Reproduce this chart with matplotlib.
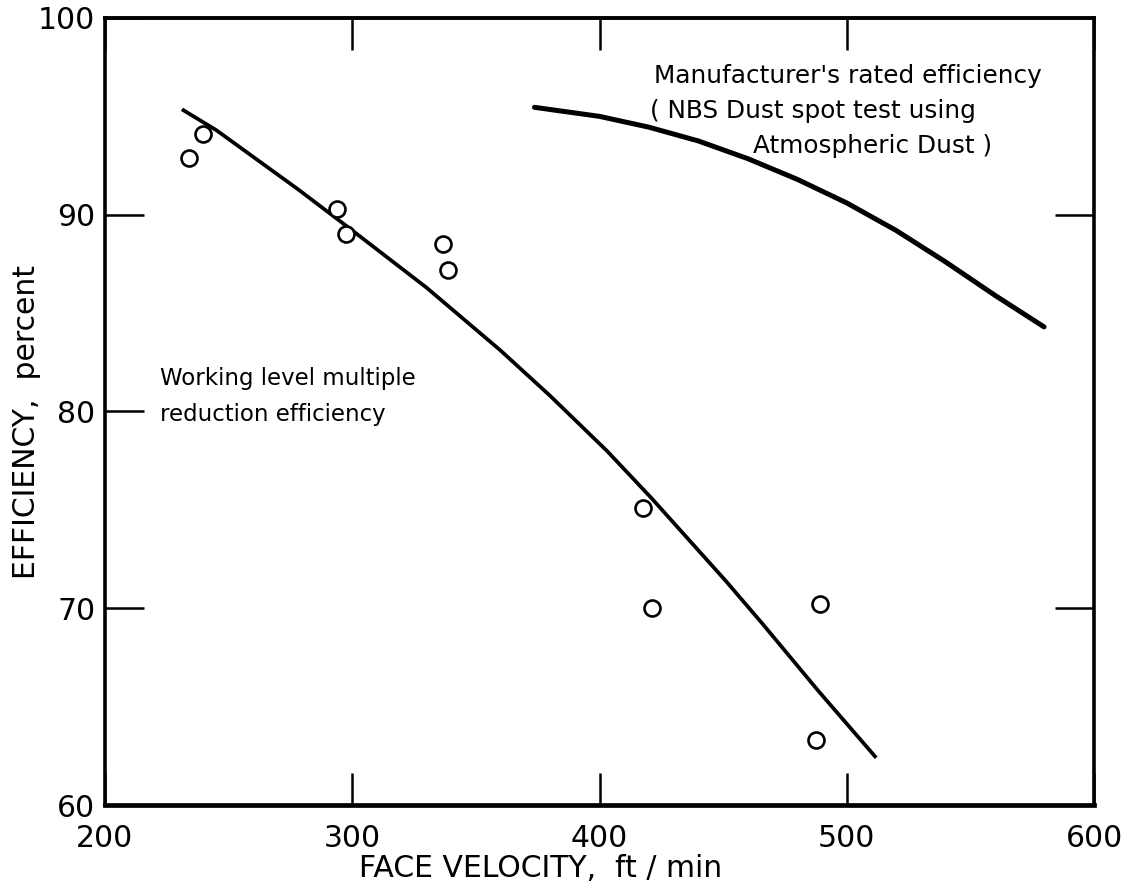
import matplotlib
matplotlib.use("Agg")
import matplotlib.pyplot as plt

# ---- data ----
vel_pts = [233.9, 239.6, 293.7, 297.4, 336.6, 338.6, 417.4, 421.4, 489.3, 487.7]
eff_pts = [92.9, 94.1, 90.3, 89.0, 88.5, 87.2, 75.1, 70.0, 70.2, 63.3]

work_vel = [231.1, 245.0, 278.0, 299.0, 330.0, 360.0, 380.0, 403.0, 421.0, 451.0, 466.0, 488.5, 511.9]
work_eff = [95.36, 94.3, 91.3, 89.3, 86.3, 83.1, 80.8, 78.0, 75.6, 71.4, 69.2, 65.8, 62.4]

mfr_vel = [373.7, 400.0, 420.0, 440.0, 460.0, 480.0, 500.0, 520.0, 540.0, 560.0, 579.8]
mfr_eff = [95.46, 95.0, 94.45, 93.75, 92.85, 91.8, 90.6, 89.2, 87.6, 85.9, 84.3]

xticks = [200, 300, 400, 500, 600]
yticks = [60, 70, 80, 90, 100]
right_ticks = [70, 90]

plt.rcParams['font.family'] = ['DejaVu Sans']

fig = plt.figure(figsize=(11.36, 8.96), dpi=100)
ax = fig.add_axes([105/1136, (896-805)/896, (1094-105)/1136, (805-18)/896])

ax.plot(work_vel, work_eff, color='black', lw=2.7, solid_capstyle='butt', solid_joinstyle='round')
ax.plot(mfr_vel, mfr_eff, color='black', lw=3.6, solid_capstyle='round', solid_joinstyle='round')
ax.plot(vel_pts, eff_pts, linestyle='none', marker='o', markersize=11.5,
        markerfacecolor='white', markeredgecolor='black', markeredgewidth=1.9)

ax.set_xlim(200, 600)
ax.set_ylim(60, 100)
ax.set_xticks(xticks)
ax.set_yticks(yticks)
ax.set_xticklabels([str(v) for v in xticks], fontsize=21.5)
ax.set_yticklabels([str(v) for v in yticks], fontsize=21.5)

ax.tick_params(axis='x', direction='in', length=23, width=1.8, top=True, bottom=True, pad=14)
ax.tick_params(axis='y', direction='in', length=28, width=1.8, left=True, right=False, pad=7)

ax2 = ax.twinx()
ax2.set_ylim(60, 100)
ax2.set_yticks(right_ticks)
ax2.tick_params(axis='y', direction='in', length=28, width=1.8, labelright=False)
for s in ax2.spines.values():
    s.set_visible(False)

for name, s in ax.spines.items():
    s.set_linewidth(2.6)
    s.set_color('black')
ax.spines['bottom'].set_linewidth(3.4)
ax.spines['top'].set_linewidth(2.8)

# annotations
ax.text(422.2, 97.04, "Manufacturer's rated efficiency", fontsize=17.8, ha='left', va='center')
ax.text(420.6, 95.26, "( NBS Dust spot test using", fontsize=17.8, ha='left', va='center')
ax.text(462.2, 93.48, "Atmospheric Dust )", fontsize=17.8, ha='left', va='center')

ax.text(222.2, 81.66, "Working level multiple", fontsize=16.5, ha='left', va='center')
ax.text(222.2, 79.87, "reduction efficiency", fontsize=16.5, ha='left', va='center')

# axis labels
fig.text(541/1136, 1 - 868/896, "FACE VELOCITY,  ft / min", fontsize=21.5, ha='center', va='center')
fig.text(27/1136, 1 - 422/896, "EFFICIENCY,  percent", fontsize=21.5, ha='center', va='center', rotation=90)

fig.savefig("out.png", dpi=100)
